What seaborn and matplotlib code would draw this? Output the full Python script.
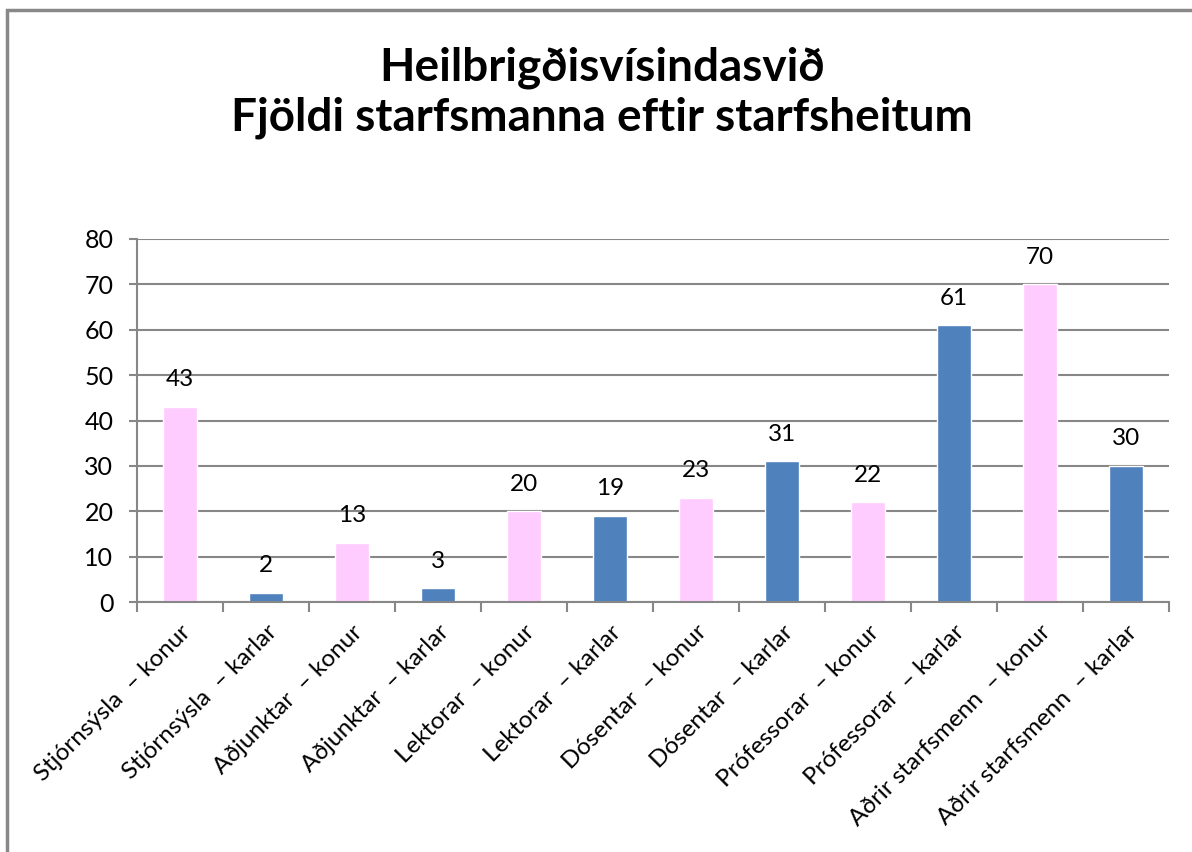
import matplotlib
matplotlib.use("Agg")
import matplotlib.pyplot as plt
import seaborn as sns
import pandas as pd
from matplotlib.patches import Rectangle
from matplotlib.ticker import FixedLocator

categories = [
    "Stjórnsýsla  – konur", "Stjórnsýsla  – karlar",
    "Aðjunktar  – konur", "Aðjunktar  – karlar",
    "Lektorar  – konur", "Lektorar  – karlar",
    "Dósentar  – konur", "Dósentar  – karlar",
    "Prófessorar  – konur", "Prófessorar  – karlar",
    "Aðrir starfsmenn  – konur", "Aðrir starfsmenn  – karlar",
]
values = [43, 2, 13, 3, 20, 19, 23, 31, 22, 61, 70, 30]
gender = ["konur", "karlar"] * 6
palette = {"konur": "#FFCCFF", "karlar": "#4F81BD"}
title = "Heilbrigðisvísindasvið\nFjöldi starfsmanna eftir starfsheitum"

sns.set_theme(style="white")
plt.rcParams["font.family"] = ["Lato", "DejaVu Sans"]
plt.rcParams["text.color"] = "black"
plt.rcParams["xtick.color"] = "black"
plt.rcParams["ytick.color"] = "black"

df = pd.DataFrame({"cat": categories, "val": values, "g": gender})

fig = plt.figure(figsize=(11.92, 8.52), dpi=100)
ax = fig.add_axes([137/1192, 1-602/852, (1169-137)/1192, (602-239)/852])

sns.barplot(data=df, x="cat", y="val", hue="g", palette=palette, dodge=False,
            width=0.4, ax=ax, legend=False, saturation=1, order=categories)

for c in ax.containers:
    ax.bar_label(c, fmt="%g", padding=12, fontsize=17.5, color="black")

ax.set_ylim(0, 80)
ax.set_xlim(-0.5, len(categories) - 0.5)
ax.set_yticks(range(0, 81, 10))
ax.yaxis.grid(True, color="#878787", linewidth=1.5)
ax.set_axisbelow(True)
ax.set_xlabel("")
ax.set_ylabel("")

for s in ["top", "right"]:
    ax.spines[s].set_visible(False)
for s in ["left", "bottom"]:
    ax.spines[s].set_color("#878787")
    ax.spines[s].set_linewidth(1.5)

ax.tick_params(axis="y", left=True, length=6, color="#878787", width=1.5,
               labelsize=18, pad=11, labelcolor="black")
ax.set_xticks(range(len(categories)))
ax.set_xticklabels(categories, rotation=45, ha="right", rotation_mode="anchor",
                   fontsize=17.5, color="black")
ax.tick_params(axis="x", which="major", length=0, pad=14)
ax.xaxis.set_minor_locator(FixedLocator([i - 0.5 for i in range(len(categories) + 1)]))
ax.tick_params(axis="x", which="minor", bottom=True, length=7, color="#878787", width=1.5)

fig.text(0.505, 0.891, title, ha="center", va="center", fontsize=33,
         fontweight="bold", linespacing=1.2, color="black")

fig.patches.append(Rectangle((7/1192, -0.1), 1.2, 1 - 10/852 + 0.1,
                             transform=fig.transFigure, fill=False,
                             edgecolor="#888888", linewidth=2.5))

fig.savefig("out.png", dpi=100)
